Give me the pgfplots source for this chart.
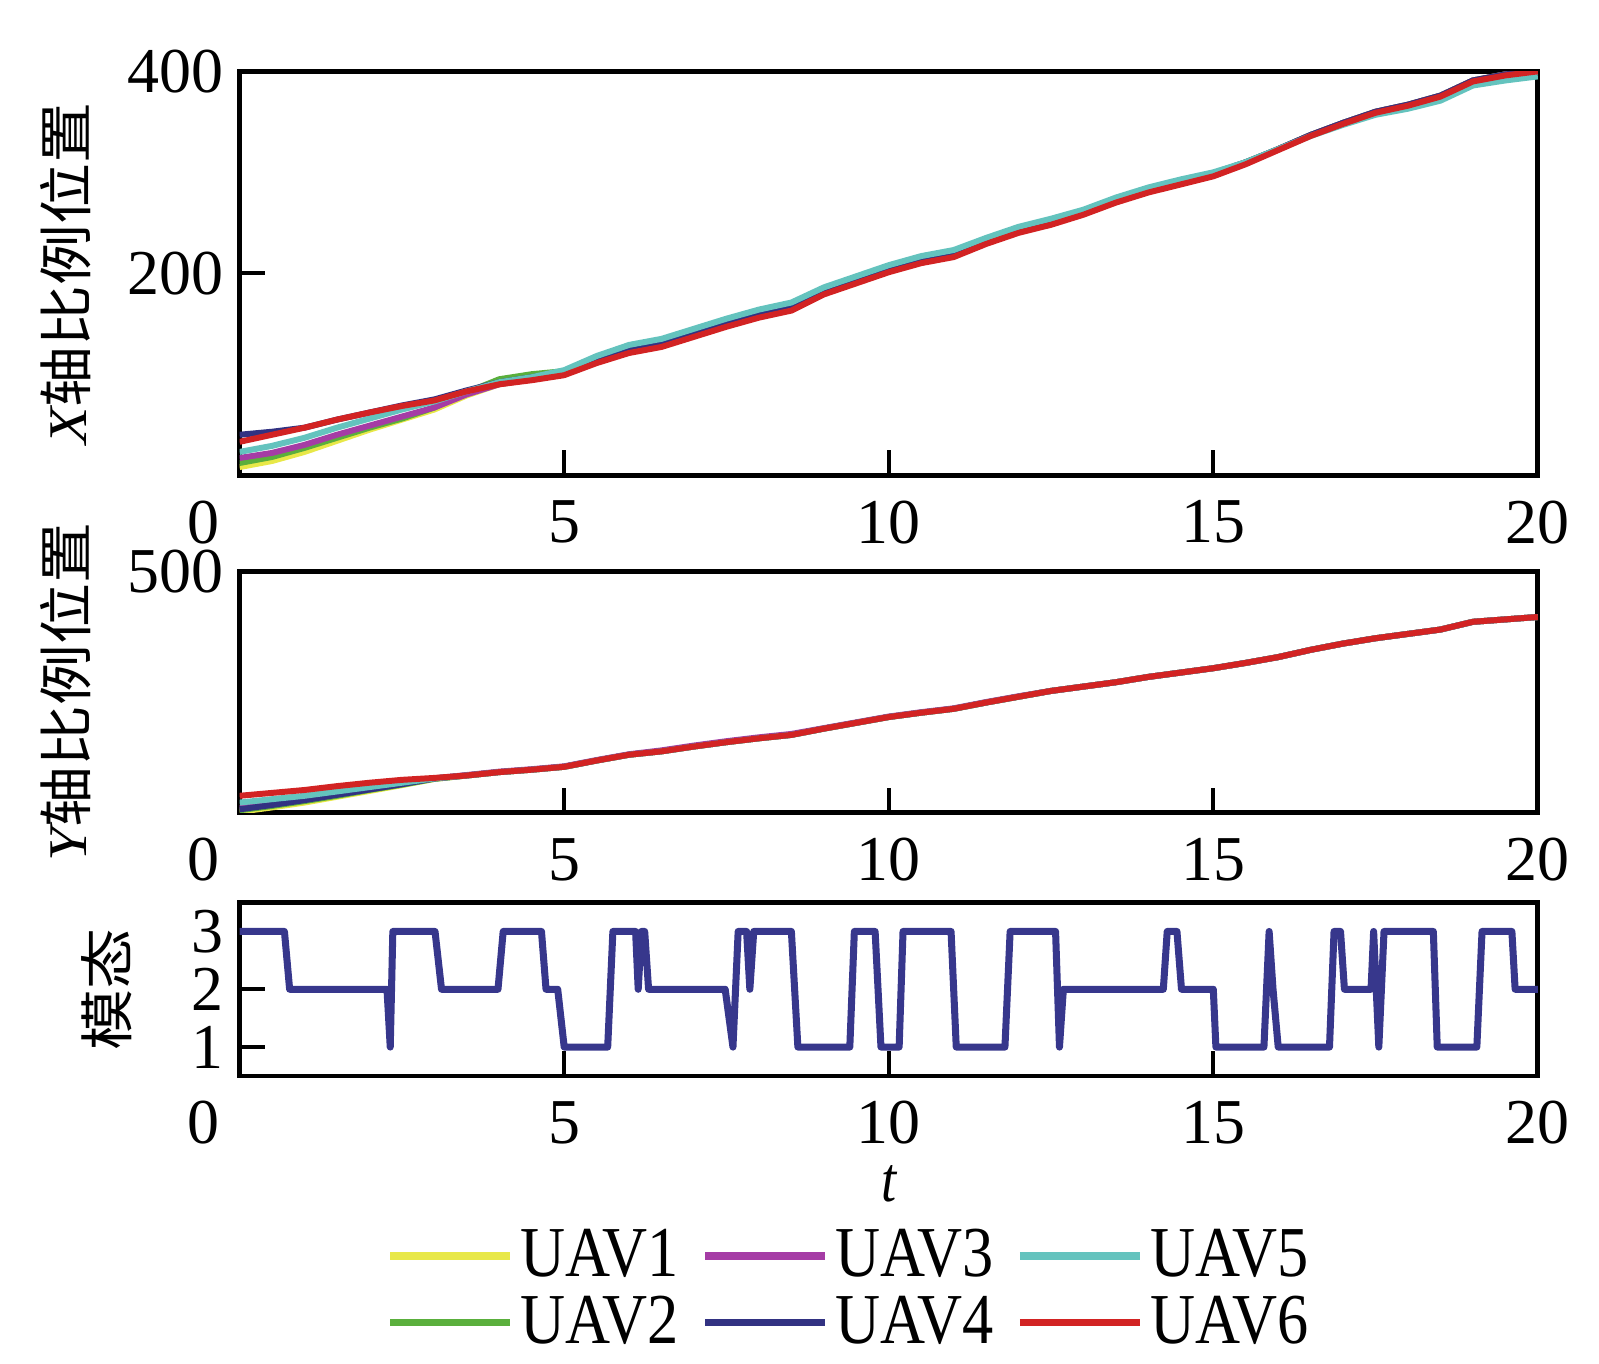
\documentclass[border=0pt]{standalone}
\usepackage{fontspec}
\setmainfont[FakeStretch=0.85]{Liberation Serif}
\newfontfamily\tickfont{Liberation Serif}
\newfontfamily\legfont[FakeStretch=0.87]{Liberation Serif}
\newfontfamily\rotfont[FakeStretch=1.12]{Liberation Serif}
\newfontfamily\rotcjk[FakeStretch=1.12]{Noto Sans CJK SC}
\usepackage{pgfplots}
\usepackage{pgfplotstable}
\pgfplotsset{compat=1.18}

\definecolor{cA}{RGB}{232,232,72}
\definecolor{cB}{RGB}{90,175,60}
\definecolor{cC}{RGB}{165,60,165}
\definecolor{cD}{RGB}{50,50,130}
\definecolor{cE}{RGB}{100,195,190}
\definecolor{cF}{RGB}{210,35,35}
\definecolor{cM}{RGB}{55,55,140}

\pgfplotstableread{
t    u1    u2    u3    u4    u5    u6
0    8     12    17    40    23    33
0.5  14    18    22    43    29    40
1    23    27    30    47    37    47
1.5  34    37    40    55    47    55
2    45    47    49    62    56    62
2.5  55    56    58    69    65    68.5
3    65    67    67    75    73    74
3.5  79    82    80    84    83    83
4    90    95    90    92    92    90
4.5  95    100   95    97    97    94
5    100   103   100   102   104   99
5.5  112   114   112   114   118   111
6    122   124   122   124   129   121
6.5  128   130   128   130   135   127
7    138   140   138   140   145   137
7.5  148   150   148   150   155   147
8    157   159   157   159   164   156
8.5  164   166   164   166   171   163
9    180   182   180   182   186   179
9.5  191   193   191   193   197   190
10   202   204   202   204   208   201
10.5 211   213   211   213   217   210
11   217   219   217   219   223   216
11.5 230   232   230   232   235   229
12   241   243   241   243   246   240
12.5 249   251   249   251   254   248
13   259   261   259   261   263   258
13.5 271   273   271   273   275   270
14   281   283   281   283   285   280
14.5 289   291   289   291   293   288
15   297   299   297   299   300   296
15.5 309   310   309   310   310   308
16   323   323   323   323   323   322
16.5 337   337   337   337   336   336
17   349   349   349   349   347   348
17.5 360   360   360   360   357   359
18   367   367   367   367   363   366
18.5 376   376   376   376   371   375
19   391   391   391   391   386   390
19.5 397   397   397   397   391   396
20   400   400   400   400   395   400
}\xtab

\pgfplotstableread{
t    u1    u2    u3    u4    u5    u6
0    2     5     10    7     21    35
0.5  11    14    18    16    28    41
1    21    24    27    26    35    47
1.5  33    35    38    37    44    55
2    45    47    49    48    53    62
2.5  57    58    60    59    62    68
3    70    70    71    71    71    72
3.5  77    77    78    77    77    77
4    84    84    85    84    84    84
4.5  89    89    90    89    89    89
5    95    95    96    95    95    95
5.5  108   108   109   108   108   108
6    120   120   121   120   120   120
6.5  127   127   129   127   127   127
7    137   137   139   137   137   137
7.5  146   146   148   146   146   146
8    154   154   156   154   154   154
8.5  161   161   163   161   161   161
9    174   174   175   174   174   174
9.5  186   186   187   186   186   186
10   198   198   199   198   198   198
10.5 207   207   208   207   207   207
11   215   215   216   215   215   215
11.5 228   228   229   228   228   228
12   240   240   241   240   240   240
12.5 252   252   252   252   252   252
13   261   261   261   261   261   261
13.5 270   270   270   270   270   270
14   281   281   281   281   281   281
14.5 290   290   290   290   290   290
15   299   299   299   299   299   299
15.5 310   310   310   310   310   310
16   322   322   322   322   322   322
16.5 337   337   337   337   337   337
17   350   350   350   350   350   350
17.5 361   361   361   361   361   361
18   370   370   370   370   370   370
18.5 379   379   379   379   379   379
19   395   395   395   395   395   395
19.5 400   400   400   400   400   400
20   405   405   405   405   405   405
}\ytab

\pgfplotstableread{
t     m
0     3
0.69  3
0.77  2
2.27  2
2.32  1
2.36  3
3.01  3
3.11  2
3.98  2
4.06  3
4.65  3
4.72  2
4.90  2
5.00  1
5.67  1
5.75  3
6.10  3
6.14  2
6.19  3
6.24  3
6.30  2
7.48  2
7.60  1
7.68  3
7.81  3
7.86  2
7.92  3
8.50  3
8.60  1
9.40  1
9.47  3
9.79  3
9.88  1
10.16 1
10.22 3
10.96 3
11.04 1
11.79 1
11.87 3
12.57 3
12.63 1
12.69 2
14.23 2
14.29 3
14.44 3
14.51 2
15.00 2
15.04 1
15.78 1
15.86 3
15.92 2
16.00 1
16.79 1
16.86 3
16.96 3
17.02 2
17.43 2
17.47 3
17.55 1
17.63 3
18.39 3
18.45 1
19.06 1
19.14 3
19.60 3
19.65 2
20    2
}\mtab

\pgfplotsset{
  myax/.style={
    scale only axis, width=12.99cm, xmin=0, xmax=20,
    anchor=north west,
    axis line style={line width=1.4pt, black},
    tick style={line width=1.2pt, black},
    major tick length=0.25cm,
    tick align=inside, tick pos=left,
    xtick={0,5,10,15,20},
    xticklabels={\llap{0\hspace{0.2cm}},5,10,15,20},
    tick label style={font=\tickfont\fontsize{18.2}{21}\selectfont},
    xticklabel style={anchor=center, yshift=-0.47cm},
    yticklabel style={anchor=east, xshift=-0.04cm},
    ylabel style={at={(axis description cs:-0.1343,0.5)}, anchor=center, font=\fontsize{15.5}{18}\selectfont},
    no markers,
    every axis plot/.append style={line width=1.7pt, line join=round},
  }
}

\begin{document}
\begin{tikzpicture}
\begin{axis}[myax, at={(0cm,0cm)}, height=4.04cm, ymin=0, ymax=400,
  ytick={200,400}, yticklabels={200,400},
  ylabel={{\rotfont\itshape X}{\rotcjk 轴比例位置}}]
\addplot[cA] table[x=t,y=u1]{\xtab};
\addplot[cB] table[x=t,y=u2]{\xtab};
\addplot[cC] table[x=t,y=u3]{\xtab};
\addplot[cD] table[x=t,y=u4]{\xtab};
\addplot[cE] table[x=t,y=u5]{\xtab};
\addplot[cF] table[x=t,y=u6]{\xtab};
\end{axis}

\begin{axis}[myax, at={(0cm,-5.0cm)}, height=2.418cm, ymin=0, ymax=500,
  ytick={500}, yticklabels={500},
  ylabel={{\rotfont\itshape Y}{\rotcjk 轴比例位置}}]
\addplot[cA] table[x=t,y=u1]{\ytab};
\addplot[cB] table[x=t,y=u2]{\ytab};
\addplot[cC] table[x=t,y=u3]{\ytab};
\addplot[cD] table[x=t,y=u4]{\ytab};
\addplot[cE] table[x=t,y=u5]{\ytab};
\addplot[cF] table[x=t,y=u6]{\ytab};
\end{axis}

\begin{axis}[myax, at={(0cm,-8.317cm)}, height=1.735cm, ymin=0.5, ymax=3.5,
  ytick={1,2,3}, yticklabels={1,2,3},
  ylabel={\rotcjk 模态},
  ylabel style={at={(axis description cs:-0.1024,0.5)}},
  xlabel={\itshape t},
  xlabel style={at={(axis description cs:0.5,-0.62)}, anchor=center, font=\fontsize{18.2}{21}\selectfont},
  legend columns=3,
  legend style={draw=none, fill=none, at={(axis description cs:0.471,-0.8)}, anchor=north,
    font=\legfont\fontsize{20.4}{23}\selectfont, column sep=0cm,
    /tikz/every even column/.append style={column sep=0.15cm}},
  legend image code/.code={\draw[#1, line width=2.2pt] (0cm,0cm) -- (1.2cm,0cm);}]
\addplot[cM, line width=2pt, forget plot] table[x=t,y=m]{\mtab};
\addlegendimage{cA}\addlegendentry{UAV1}
\addlegendimage{cC}\addlegendentry{UAV3}
\addlegendimage{cE}\addlegendentry{UAV5}
\addlegendimage{cB}\addlegendentry{UAV2}
\addlegendimage{cD}\addlegendentry{UAV4}
\addlegendimage{cF}\addlegendentry{UAV6}
\end{axis}
\path (-2.398cm,0.714cm) rectangle (13.602cm,-12.926cm);
\end{tikzpicture}
\end{document}
